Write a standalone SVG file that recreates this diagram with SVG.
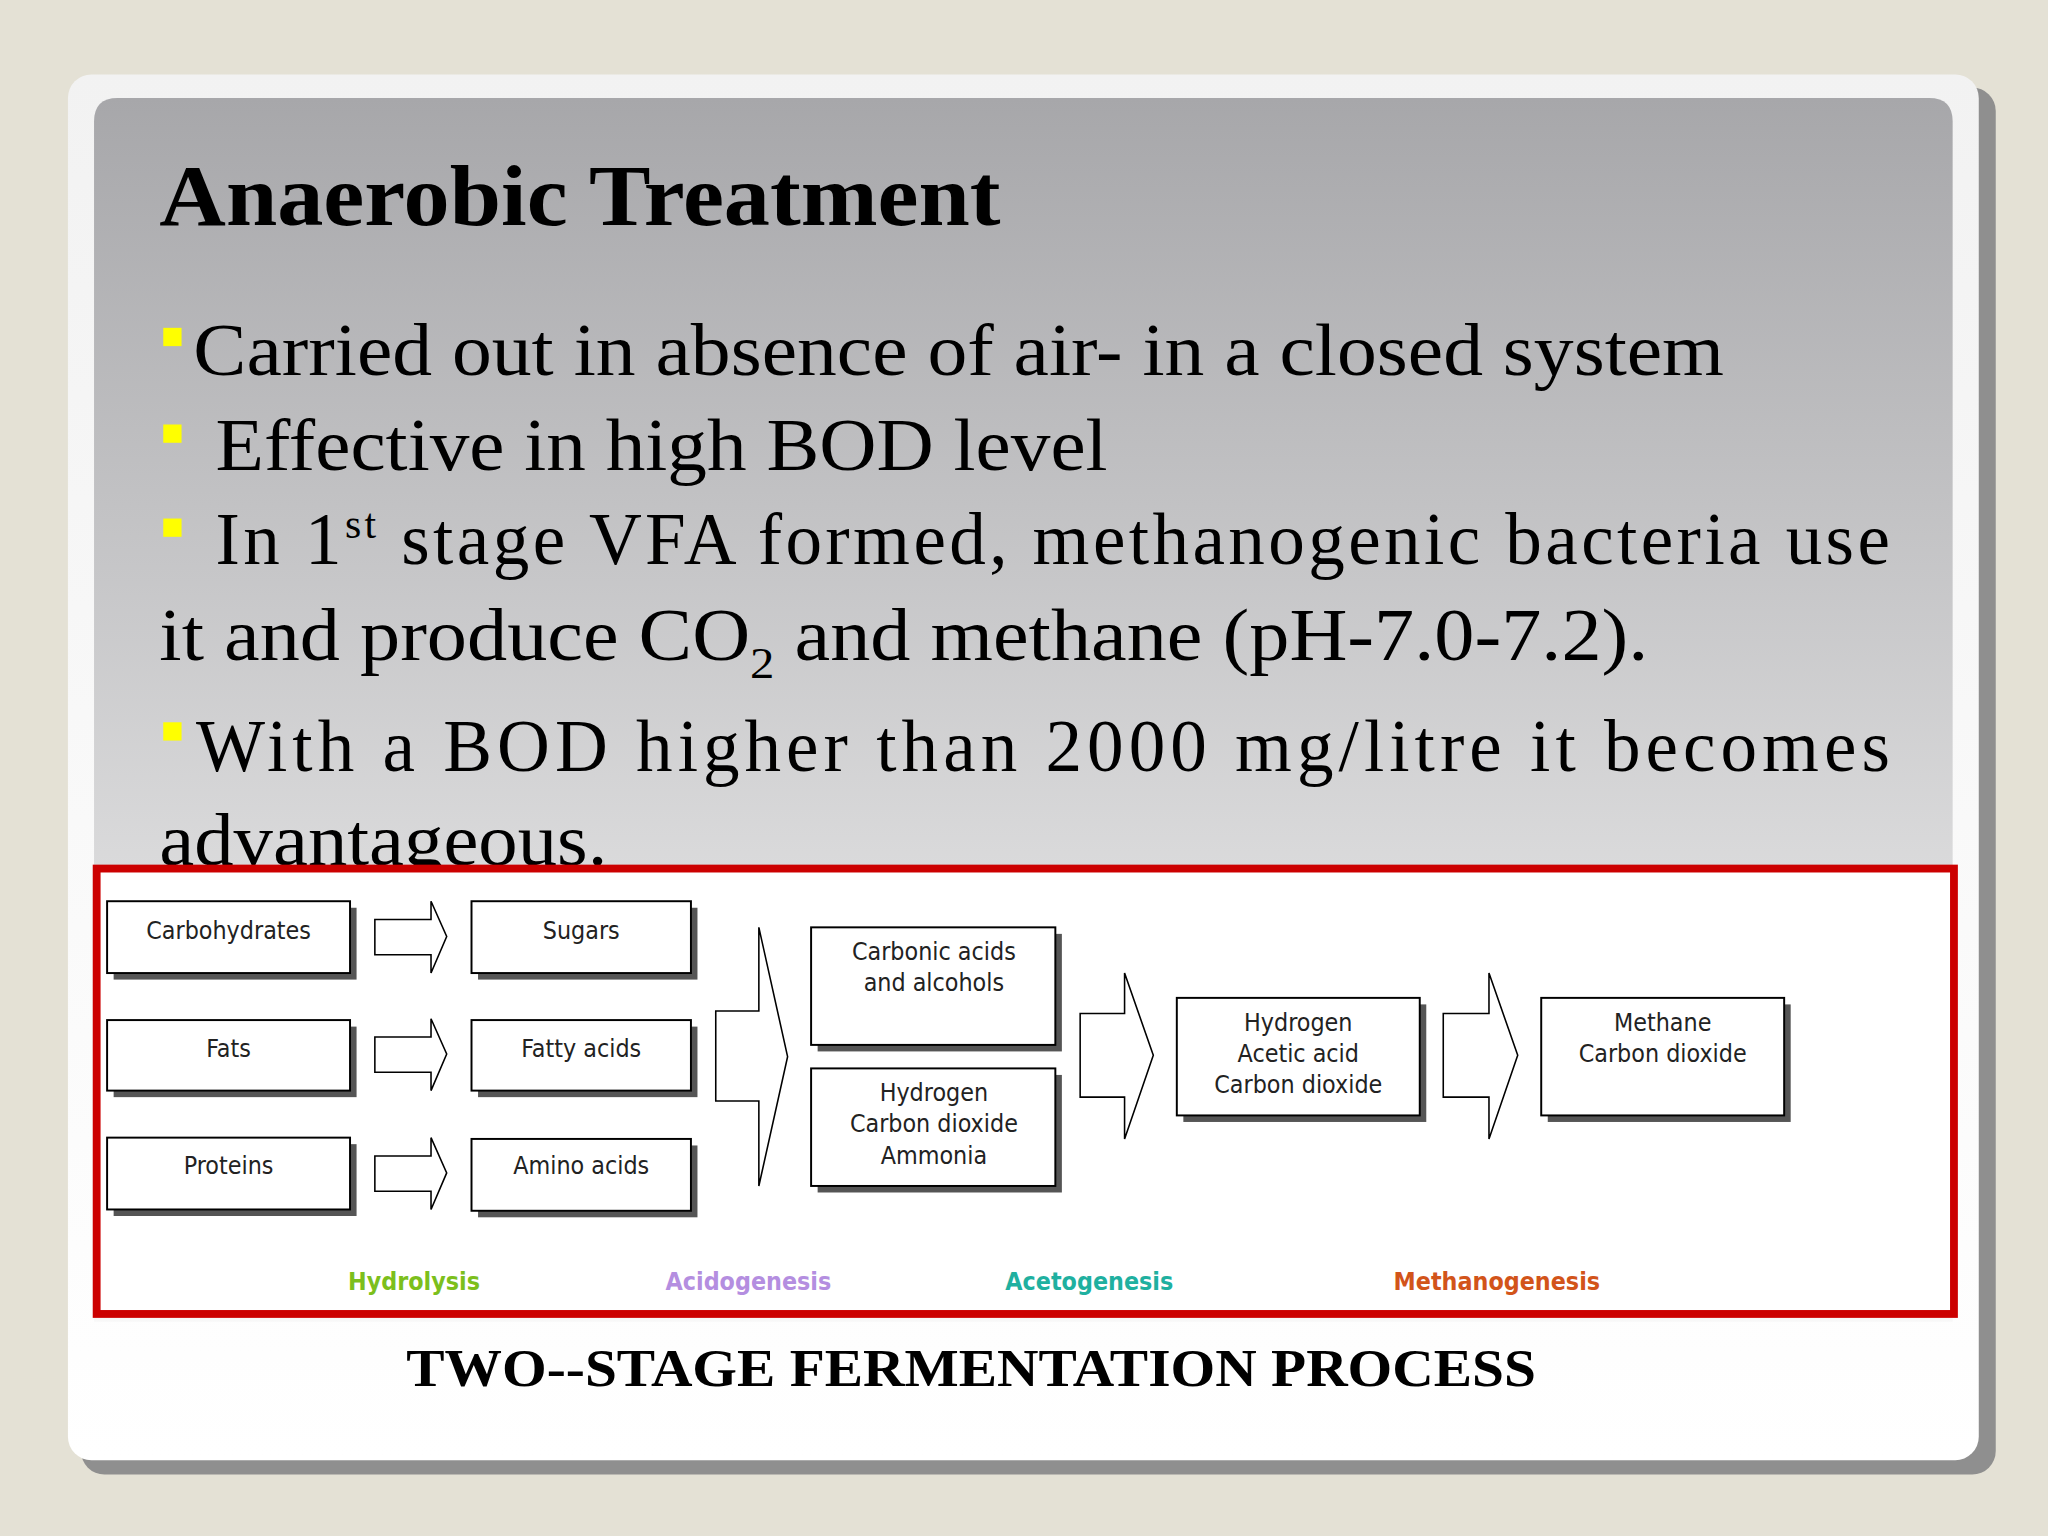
<svg xmlns="http://www.w3.org/2000/svg" width="2048" height="1536" viewBox="0 0 2048 1536">
<defs>
<linearGradient id="pg" x1="0" y1="0" x2="0" y2="1"><stop offset="0" stop-color="#a7a7aa"/><stop offset="1" stop-color="#f8f8f8"/></linearGradient>
<linearGradient id="cg" x1="0" y1="0" x2="0" y2="1"><stop offset="0" stop-color="#f2f2f2"/><stop offset="1" stop-color="#ffffff"/></linearGradient>
<style>
.t{font-family:"Liberation Serif",serif;fill:#000}
.b{fill:#fff;stroke:#000;stroke-width:1.5}
.s{fill:#555}
.n{font-family:"DejaVu Sans Condensed","Liberation Sans",sans-serif;font-size:19px;fill:#222;text-anchor:middle}
.a{fill:#fff;stroke:#000;stroke-width:1.2}
.l{font-family:"DejaVu Sans Condensed","Liberation Sans",sans-serif;font-size:19px;font-weight:bold;text-anchor:middle}
.y{fill:#ffff00}
</style>
</defs>
<rect width="2048" height="1536" fill="#e4e1d5"/>
<g transform="scale(1.30612)">
<rect x="62" y="67" width="1466" height="1062" rx="18" fill="#8f8f8f"/>
<rect x="52" y="57" width="1463" height="1061" rx="18" fill="url(#cg)"/>
<path d="M90 75 H1477 Q1495 75 1495 93 V1012 H72 V93 Q72 75 90 75Z" fill="url(#pg)"/>
<text class="t" x="122" y="172" font-size="66" font-weight="bold" textLength="644" lengthAdjust="spacingAndGlyphs">Anaerobic Treatment</text>
<rect class="y" x="125" y="251" width="14" height="14"/>
<rect class="y" x="125" y="325" width="14" height="14"/>
<rect class="y" x="125" y="397" width="14" height="14"/>
<rect class="y" x="125" y="553" width="14" height="14"/>
<text class="t" x="148" y="287" font-size="56" textLength="1172" lengthAdjust="spacingAndGlyphs">Carried out in absence of air- in a closed system</text>
<text class="t" x="165" y="360" font-size="56" textLength="683" lengthAdjust="spacingAndGlyphs">Effective in high BOD level</text>
<text class="t" x="165" y="432" font-size="56" textLength="1282" lengthAdjust="spacing">In 1<tspan font-size="32" dy="-20">st</tspan><tspan dy="20"> stage VFA  formed, methanogenic bacteria use</tspan></text>
<text class="t" x="122" y="505" font-size="56" textLength="1140" lengthAdjust="spacingAndGlyphs">it and produce CO<tspan font-size="34" dy="14">2</tspan><tspan dy="-14">  and methane (pH-7.0-7.2).</tspan></text>
<text class="t" x="150" y="590" font-size="56" textLength="1297" lengthAdjust="spacing">With a BOD higher than 2000 mg/litre it becomes</text>
<text class="t" x="122" y="662" font-size="56" textLength="343" lengthAdjust="spacingAndGlyphs">advantageous.</text>
<rect x="74" y="665" width="1422" height="341" fill="#fff" stroke="#cc0000" stroke-width="6"/>
<g id="carbohydrates"><rect class="s" x="87" y="695" width="186" height="55"/><rect class="b" x="82" y="690" width="186" height="55"/><text class="n" x="175" y="719">Carbohydrates</text></g>
<g id="fats"><rect class="s" x="87" y="786" width="186" height="54"/><rect class="b" x="82" y="781" width="186" height="54"/><text class="n" x="175" y="809">Fats</text></g>
<g id="proteins"><rect class="s" x="87" y="876" width="186" height="55"/><rect class="b" x="82" y="871" width="186" height="55"/><text class="n" x="175" y="899">Proteins</text></g>
<g id="sugars"><rect class="s" x="366" y="695" width="168" height="55"/><rect class="b" x="361" y="690" width="168" height="55"/><text class="n" x="445" y="719">Sugars</text></g>
<g id="fattyacids"><rect class="s" x="366" y="786" width="168" height="54"/><rect class="b" x="361" y="781" width="168" height="54"/><text class="n" x="445" y="809">Fatty acids</text></g>
<g id="aminoacids"><rect class="s" x="366" y="877" width="168" height="55"/><rect class="b" x="361" y="872" width="168" height="55"/><text class="n" x="445" y="899">Amino acids</text></g>
<g id="carbonic"><rect class="s" x="626" y="715" width="187" height="90"/><rect class="b" x="621" y="710" width="187" height="90"/><text class="n" x="715" y="735">Carbonic acids</text><text class="n" x="715" y="759">and alcohols</text></g>
<g id="h2co2nh3"><rect class="s" x="626" y="823" width="187" height="90"/><rect class="b" x="621" y="818" width="187" height="90"/><text class="n" x="715" y="843">Hydrogen</text><text class="n" x="715" y="867">Carbon dioxide</text><text class="n" x="715" y="891">Ammonia</text></g>
<g id="acetic"><rect class="s" x="906" y="769" width="186" height="90"/><rect class="b" x="901" y="764" width="186" height="90"/><text class="n" x="994" y="789">Hydrogen</text><text class="n" x="994" y="813">Acetic acid</text><text class="n" x="994" y="837">Carbon dioxide</text></g>
<g id="methane"><rect class="s" x="1185" y="769" width="186" height="90"/><rect class="b" x="1180" y="764" width="186" height="90"/><text class="n" x="1273" y="789">Methane</text><text class="n" x="1273" y="813">Carbon dioxide</text></g>
<g id="connectors">
<path class="a" d="M287 704 H330 V690 L342 717 L330 745 V731 H287Z"/>
<path class="a" d="M287 794 H330 V780 L342 807 L330 835 V821 H287Z"/>
<path class="a" d="M287 885 H330 V871 L342 898 L330 926 V912 H287Z"/>
<path class="a" d="M548 774 H581 V710 L603 809 L581 908 V843 H548Z"/>
<path class="a" d="M827 776 H861 V745 L883 808 L861 872 V840 H827Z"/>
<path class="a" d="M1105 776 H1140 V745 L1162 808 L1140 872 V840 H1105Z"/>
</g>
<text class="l" x="317" y="988" fill="#7cbf1c">Hydrolysis</text>
<text class="l" x="573" y="988" fill="#b48ee0">Acidogenesis</text>
<text class="l" x="834" y="988" fill="#1fb0a0">Acetogenesis</text>
<text class="l" x="1146" y="988" fill="#d2541a">Methanogenesis</text>
<text class="t" x="311" y="1061" font-size="40" font-weight="bold" fill="#14143c" textLength="865" lengthAdjust="spacingAndGlyphs">TWO--STAGE FERMENTATION PROCESS</text>
</g>
</svg>
